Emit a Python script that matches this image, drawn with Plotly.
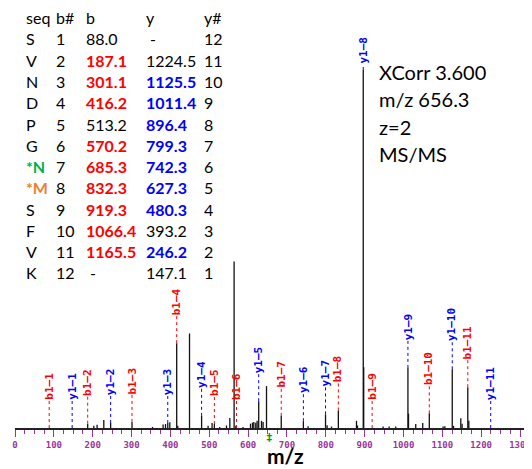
import plotly.graph_objects as go

# ---------------- data ----------------
seq = ["S", "V", "N", "D", "P", "G", "*N", "*M", "S", "F", "V", "K"]
b_num = list(range(1, 13))
b_vals = ["88.0", "187.1", "301.1", "416.2", "513.2", "570.2", "685.3", "832.3",
          "919.3", "1066.4", "1165.5", "-"]
b_hit = [False, True, True, True, False, True, True, True, True, True, True, False]
y_vals = ["-", "1224.5", "1125.5", "1011.4", "896.4", "799.3", "742.3", "627.3",
          "480.3", "393.2", "246.2", "147.1"]
y_hit = [False, False, True, True, True, True, True, True, True, False, True, False]
y_num = list(range(12, 0, -1))
header = ["seq", "b#", "b", "y", "y#"]

info_lines = ["XCorr 3.600", "m/z 656.3", "z=2", "MS/MS"]
precursor_mz = 656.3

peak_mz = [187.1, 202.8, 211.3, 228.6, 246.2, 301.1, 354.0, 381.2, 387.4, 393.2,
           398.5, 416.2, 419.0, 449.2, 480.3, 497.0, 507.3, 513.2, 527.0, 544.4,
           553.0, 564.0, 568.4, 587.0, 606.2, 611.3, 614.7, 619.8, 623.2, 627.3,
           634.5, 638.6, 647.4, 685.3, 742.3, 754.4, 799.3, 803.4, 814.7, 832.3,
           879.0, 881.6, 896.4, 897.6, 947.5, 963.0, 980.0, 1011.4, 1012.9, 1031.5,
           1049.5, 1066.4, 1102.0, 1106.4, 1125.5, 1128.8, 1147.5, 1150.8, 1165.5, 1168.1]
peak_int = [1.2, 0.6, 0.9, 2.2, 1.4, 1.7, 0.3, 1.0, 1.1, 1.4,
            1.6, 23.7, 0.6, 26.4, 3.4, 0.6, 1.4, 1.1, 0.3, 0.7,
            2.8, 46.5, 0.6, 0.3, 1.2, 1.5, 1.7, 1.5, 2.0, 7.5,
            2.0, 1.7, 11.7, 3.4, 1.9, 0.5, 3.8, 0.8, 0.4, 4.9,
            2.0, 0.7, 100.0, 17.0, 0.4, 0.4, 0.4, 16.8, 4.0, 1.1,
            1.4, 4.1, 0.4, 0.5, 16.4, 0.6, 2.7, 1.2, 11.4, 2.0]

# ---------------- layout constants ----------------
# the page body has an 8px margin, so the figure is offset inside the window
OFF = 8
W, H = 532 - OFF, 469 - OFF
ML, MR, MT, MB = 7, 2, 22, 41
PW, PH = W - ML - MR, H - MT - MB
PX_PER_MZ = 0.3885
X_MAX = PW / PX_PER_MZ
PX_PER_PCT = 3.58
Y_MAX = PH / PX_PER_PCT
BASE_WIN = H - MB + OFF  # baseline in window pixels

RED, BLUE = "#ff0000", "#0000ff"
PURPLE = "#993399"
TXT_FONT = "Lato"
MONO = "DejaVu Sans Mono"


def px(x):
    """window x pixel -> paper"""
    return (x - OFF - ML) / PW


def py(y):
    """window y pixel -> paper"""
    return (BASE_WIN - y) / PH


# ---------------- spectrum sticks ----------------
xs, ys = [], []
for m, i in zip(peak_mz, peak_int):
    xs += [m, m, None]
    ys += [0, i, None]

fig = go.Figure()
fig.add_trace(go.Scatter(x=xs, y=ys, mode="lines",
                         line=dict(color="#111111", width=1.3),
                         hoverinfo="skip", showlegend=False))

annotations = []
shapes = []

# ---------------- ion labels ----------------
ions = []
for k in range(1, 12):
    ions.append(("b1–%d" % k, float(b_vals[k - 1]), RED))
for k in range(1, 12):
    idx = y_num.index(k)
    ions.append(("y1–%d" % k, float(y_vals[idx]), BLUE))

for text, mz, col in ions:
    near = [i for m, i in zip(peak_mz, peak_int) if abs(m - mz) <= 1.5]
    inten = max(near) if near else 0.0
    top_px = BASE_WIN - inten * PX_PER_PCT
    lab_len = len(text) * 6.7
    off = 27
    if top_px - off - lab_len < 38:
        off = max(3, top_px - 38 - lab_len)
    shapes.append(dict(type="line", xref="x", yref="y", x0=mz, x1=mz,
                       ysizemode="pixel", yanchor=inten, y0=0, y1=off,
                       line=dict(color=col, width=1, dash="dot")))
    annotations.append(dict(x=mz, y=inten, xref="x", yref="y", text="<b>%s</b>" % text,
                            textangle=-90, showarrow=False, xanchor="center",
                            yanchor="bottom", yshift=off, borderpad=0,
                            font=dict(family=MONO, size=11, color=col)))

# precursor marker
annotations.append(dict(x=precursor_mz, y=0, xref="x", yref="y", text="<b>‡</b>",
                        showarrow=False, xanchor="center", yanchor="top", yshift=-1,
                        font=dict(family=MONO, size=11, color="#00a000")))

# ---------------- table ----------------
col_x = [25, 55, 85, 145, 203]
row0, row_step = 17.7, 21.27


def cell(x, y, text, color="black", bold=False):
    t = "<b>%s</b>" % text if bold else text
    annotations.append(dict(x=px(x), y=py(y), xref="paper", yref="paper", text=t,
                            showarrow=False, xanchor="left", yanchor="middle",
                            borderpad=0,
                            font=dict(family=TXT_FONT, size=16, color=color)))


for c, h in enumerate(header):
    cell(col_x[c], row0, h)

mod_colors = {"*N": "#00b050", "*M": "#ed7d31"}
for r in range(12):
    yy = row0 + row_step * (r + 1)
    s = seq[r]
    cell(col_x[0], yy, s, mod_colors.get(s, "black"), s in mod_colors)
    cell(col_x[1], yy, str(b_num[r]))
    bv = b_vals[r] if b_vals[r] != "-" else "\u00a0-"
    cell(col_x[2], yy, bv, RED if b_hit[r] else "black", b_hit[r])
    yv = y_vals[r] if y_vals[r] != "-" else "\u00a0-"
    cell(col_x[3], yy, yv, BLUE if y_hit[r] else "black", y_hit[r])
    cell(col_x[4], yy, str(y_num[r]))

# ---------------- info text ----------------
for n, line in enumerate(info_lines):
    annotations.append(dict(x=px(378), y=py(72 + 27.3 * n), xref="paper", yref="paper",
                            text=line, showarrow=False, xanchor="left", yanchor="middle",
                            borderpad=0, font=dict(family=TXT_FONT, size=20, color="black")))

# axis title
annotations.append(dict(x=px(285), y=py(469), xref="paper", yref="paper",
                        text="<b>m/z</b>", showarrow=False, xanchor="center",
                        yanchor="bottom", borderpad=0,
                        font=dict(family=TXT_FONT, size=21, color="black")))

fig.update_layout(
    width=W, height=H,
    margin=dict(l=ML, r=MR, t=MT, b=MB),
    paper_bgcolor="white", plot_bgcolor="white",
    showlegend=False,
    annotations=annotations,
    shapes=shapes,
    xaxis=dict(range=[0, X_MAX], tick0=0, dtick=100, ticks="outside", ticklen=7,
               tickwidth=1.3, tickcolor=PURPLE, showline=True, linecolor="#222222",
               linewidth=1.5, showgrid=False, zeroline=False,
               tickfont=dict(family=MONO, size=9, color=PURPLE, weight="bold"),
               minor=dict(dtick=25, ticks="outside", ticklen=4, tickwidth=1.3,
                          tickcolor=PURPLE, showgrid=False)),
    yaxis=dict(range=[0, Y_MAX], visible=False, showgrid=False, zeroline=False),
)

fig.write_html("out.html")
